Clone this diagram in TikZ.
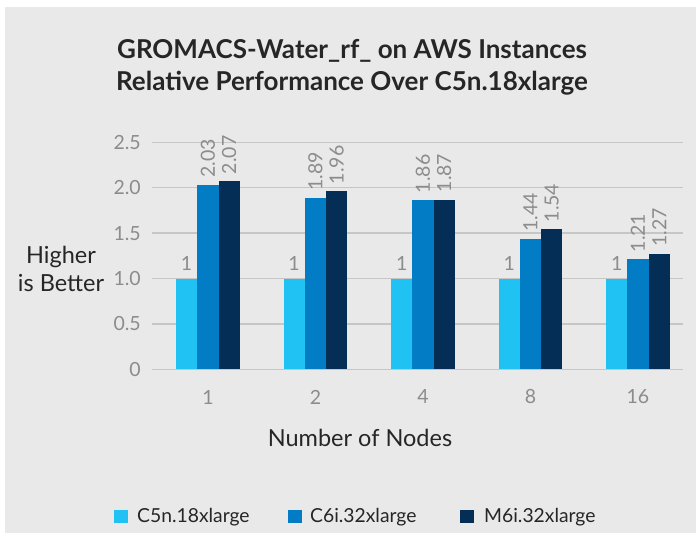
\documentclass[tikz,border=0pt]{standalone}
\usepackage{fontspec}
\setmainfont{Lato}
\definecolor{bgc}{HTML}{E9E9E9}
\definecolor{gridc}{HTML}{C6C6C6}
\definecolor{lblc}{HTML}{8C8C8C}
\definecolor{titc}{HTML}{262626}
\definecolor{cA}{HTML}{20C2F3}
\definecolor{cB}{HTML}{017CC5}
\definecolor{cC}{HTML}{052E57}
\begin{document}
\begin{tikzpicture}[x=1pt,y=-1pt,
  lbl/.style={font=\fontsize{19.5}{22}\selectfont, text=lblc, inner sep=0pt},
  ttl/.style={font=\fontsize{26}{32}\selectfont\bfseries, text=titc, align=center},
  axt/.style={font=\fontsize{23.5}{28}\selectfont, text=titc, align=center},
  leg/.style={font=\fontsize{19.3}{22}\selectfont, text=titc, anchor=west, inner sep=0pt},
  gridline/.style={draw=gridc, line width=1.4pt}]
\useasboundingbox (0,0) rectangle (698,533);
\fill[white] (0,0) rectangle (698,533);
\fill[bgc] (5,7) rectangle (696,533);
% title
\node[ttl] (title) at (352,67) {GROMACS-Water\_rf\_ on AWS Instances\\Relative Performance Over C5n.18xlarge};
% gridlines and ticks
\foreach \v/\t in {0/0,0.5/0.5,1/1.0,1.5/1.5,2/2.0,2.5/2.5}{
  \draw[gridline] (152,{369.3-\v*90.8}) -- (683,{369.3-\v*90.8});
  \node[lbl, anchor=east] (tick\t) at (141,{369.3-\v*90.8}) {\t};
}
% y-axis title
\node[axt] (ytitle) at (61,269) {Higher\\is Better};
% bars
\foreach \i/\n/\a/\b/\c in {0/1/1/2.03/2.07, 1/2/1/1.89/1.96, 2/4/1/1.86/1.87, 3/8/1/1.44/1.54, 4/16/1/1.21/1.27}{
  \pgfmathsetmacro{\xl}{176+\i*107.5}
  \fill[cA] (\xl,369.3) rectangle ({\xl+21.3},{369.3-\a*90.8});
  \fill[cB] ({\xl+21.3},369.3) rectangle ({\xl+42.6},{369.3-\b*90.8});
  \fill[cC] ({\xl+42.6},369.3) rectangle ({\xl+63.9},{369.3-\c*90.8});
  \node[lbl, anchor=south] (va\i) at ({\xl+10.65},{369.3-\a*90.8-8}) {1};
  \node[lbl, anchor=west, rotate=90] (vb\i) at ({\xl+31.95},{369.3-\b*90.8-7}) {\b};
  \node[lbl, anchor=west, rotate=90] (vc\i) at ({\xl+53.25},{369.3-\c*90.8-7}) {\c};
  \node[lbl] (cat\i) at ({\xl+31.95},397) {\n};
}
\draw[gridline] (152,369.3) -- (683,369.3);
% x-axis title
\node[axt] (xtitle) at (360,438) {Number of Nodes};
% legend
\fill[cA] (114,510) rectangle (128,523);
\node[leg] (legA) at (137,517) {C5n.18xlarge};
\fill[cB] (288,510) rectangle (302,523);
\node[leg] (legB) at (310,517) {C6i.32xlarge};
\fill[cC] (460,510) rectangle (474,523);
\node[leg] (legC) at (484,517) {M6i.32xlarge};
\end{tikzpicture}
\end{document}
